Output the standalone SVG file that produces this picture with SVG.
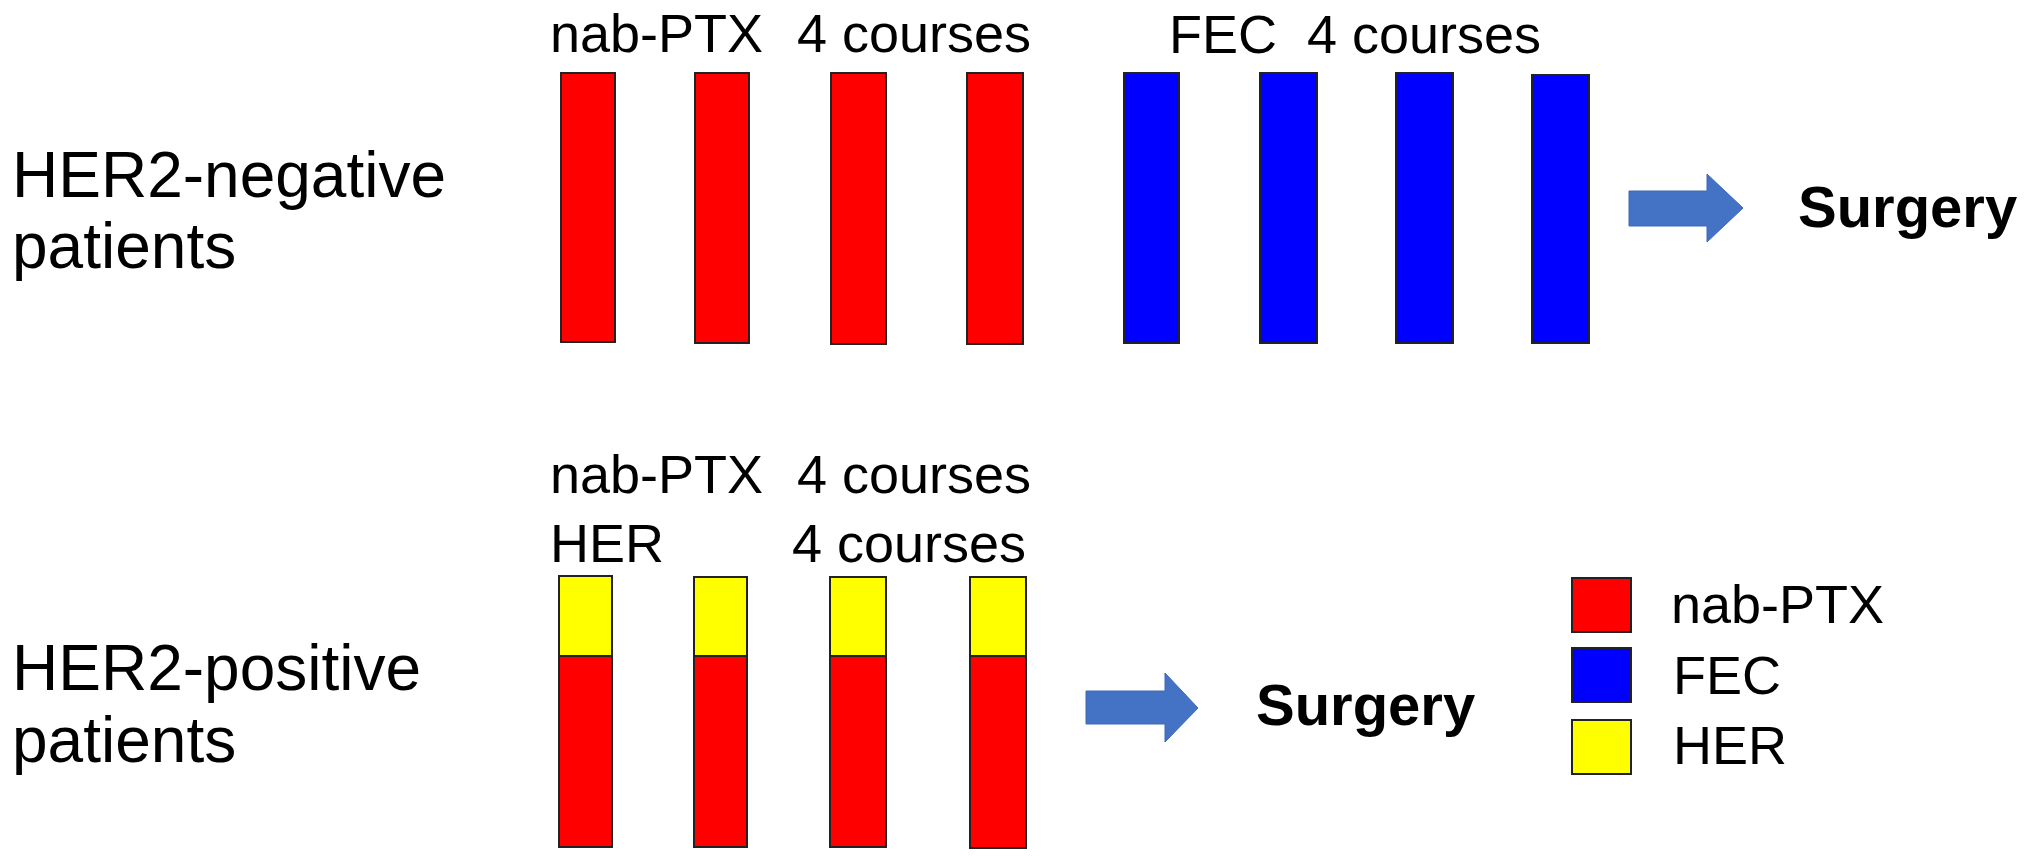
<svg xmlns="http://www.w3.org/2000/svg" width="2031" height="862" viewBox="0 0 2031 862">
<style>
text{font-family:"Liberation Sans",Arial,Helvetica,sans-serif;fill:#000}
.row{font-size:64px}
.lab{font-size:54px}
.surg{font-size:58px;font-weight:bold}
.bar{stroke:#222;stroke-width:2}
.red{fill:#FF0000}
.blue{fill:#0000FF}
.yel{fill:#FFFF00}
.arr{fill:#4472C4;stroke:#3F68B5;stroke-width:1}
</style>
<rect width="2031" height="862" fill="#fff"/>
<g id="row-negative">
<text class="row" x="12" y="197">HER2-negative</text>
<text class="row" x="12" y="268">patients</text>
</g>
<g id="label-nabptx-top">
<text class="lab" y="52"><tspan x="550">nab-PTX</tspan><tspan x="797">4 courses</tspan></text>
</g>
<g id="label-fec-top">
<text class="lab" y="53"><tspan x="1169">FEC</tspan><tspan x="1307">4 courses</tspan></text>
</g>
<g id="bars-nabptx-top">
<rect class="bar red" x="561" y="73" width="54" height="269"/>
<rect class="bar red" x="695" y="73" width="54" height="270"/>
<rect class="bar red" x="831" y="73" width="55" height="271"/>
<rect class="bar red" x="967" y="73" width="56" height="271"/>
</g>
<g id="bars-fec-top">
<rect class="bar blue" x="1124" y="73" width="55" height="270"/>
<rect class="bar blue" x="1260" y="73" width="57" height="270"/>
<rect class="bar blue" x="1396" y="73" width="57" height="270"/>
<rect class="bar blue" x="1532" y="75" width="57" height="268"/>
</g>
<g id="surgery-top">
<text class="surg" x="1798" y="227">Surgery</text>
</g>
<g id="row-positive">
<text class="row" x="12" y="690">HER2-positive</text>
<text class="row" x="12" y="762">patients</text>
</g>
<g id="label-bottom">
<text class="lab" y="493"><tspan x="550">nab-PTX</tspan><tspan x="797">4 courses</tspan></text>
<text class="lab" y="562"><tspan x="550">HER</tspan><tspan x="792">4 courses</tspan></text>
</g>
<g id="bars-bottom">
<rect class="bar yel" x="559" y="576" width="53" height="80"/>
<rect class="bar red" x="559" y="656" width="53" height="191"/>
<rect class="bar yel" x="694" y="577" width="53" height="79"/>
<rect class="bar red" x="694" y="656" width="53" height="191"/>
<rect class="bar yel" x="830" y="577" width="56" height="79"/>
<rect class="bar red" x="830" y="656" width="56" height="191"/>
<rect class="bar yel" x="970" y="577" width="56" height="79"/>
<rect class="bar red" x="970" y="656" width="56" height="192"/>
</g>
<g id="surgery-bottom">
<text class="surg" x="1256" y="725">Surgery</text>
</g>
<g id="legend">
<rect class="bar red" x="1572" y="578" width="59" height="54"/>
<text class="lab" x="1671" y="623">nab-PTX</text>
<rect class="bar blue" x="1572" y="648" width="59" height="54"/>
<text class="lab" x="1673" y="694">FEC</text>
<rect class="bar yel" x="1572" y="720" width="59" height="54"/>
<text class="lab" x="1673" y="764">HER</text>
</g>
<g id="connectors">
<polygon class="arr" points="1629,191 1707,191 1707,174 1743,208 1707,242 1707,226 1629,226"/>
<polygon class="arr" points="1086,691 1165,691 1165,673 1198,708 1165,742 1165,724 1086,724"/>
</g>
</svg>
